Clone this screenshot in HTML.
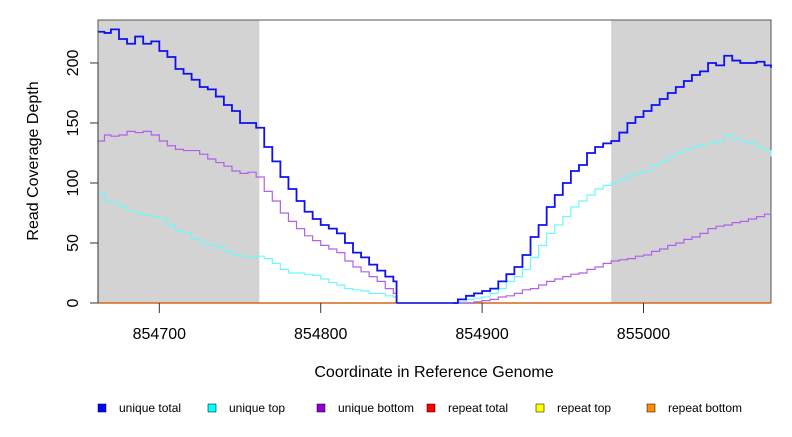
<!DOCTYPE html>
<html><head><meta charset="utf-8"><style>
body{margin:0;background:#fff;width:792px;height:432px;overflow:hidden;font-family:"Liberation Sans",sans-serif}
svg text{font-family:"Liberation Sans",sans-serif}
</style></head><body>
<svg id="chart" width="792" height="432"></svg>
<script>
const seriesNames=["unique total","unique top","unique bottom","repeat total","repeat top","repeat bottom"];
const seriesColors=["#0000ff","#00ffff","#9400d3","#ff0000","#ffff00","#ff8c00"];
const lineColors=["#1010f0","#70f8f8","#b060ea","#ff0000","#ffff00","#d2691e"];
const xTicks=[854700,854800,854900,855000];
const yTicks=[0,50,100,150,200];
const grayRegions=[[854662,854762],[854980,855080]];
const coordsLeft=[854662,854666,854670,854675,854680,854685,854690,854695,854700,854705,854710,854715,854720,854725,854730,854735,854740,854745,854750,854755,854760,854765,854770,854775,854780,854785,854790,854795,854800,854805,854810,854815,854820,854825,854830,854835,854840,854845,854847];
const totalLeft=[226,225,228,220,216,222,216,218,210,205,195,191,186,180,178,172,165,160,150,150,146,130,118,105,95,85,76,70,65,62,58,50,42,38,32,27,22,18,0];
const topLeft=[91,85,84,80,77,75,73,72,70,65,60,58,53,50,48,47,43,40,39,38,39,37,33,28,25,25,24,23,20,17,15,12,11,10,8,8,6,5,0];
const bottomLeft=[135,140,139,140,143,142,143,140,135,131,128,127,127,124,120,117,114,110,108,109,105,93,85,75,68,62,56,52,48,45,42,35,30,26,22,18,12,8,0];
const coordsRight=[854882,854885,854890,854895,854900,854905,854910,854915,854920,854925,854930,854935,854940,854945,854950,854955,854960,854965,854970,854975,854980,854985,854990,854995,855000,855005,855010,855015,855020,855025,855030,855035,855040,855045,855050,855055,855060,855065,855070,855075,855079];
const totalRight=[0,3,6,8,10,12,18,24,30,40,55,65,80,90,100,110,115,125,130,133,135,142,150,155,160,165,170,175,180,185,190,193,200,198,206,202,200,200,201,198,196];
const topRight=[0,1,3,4,5,8,12,18,22,28,38,48,58,65,72,80,85,90,95,98,100,103,106,108,110,115,118,122,125,128,130,132,133,135,140,137,135,133,130,127,122];
const bottomRight=[0,0,0,1,2,3,5,6,8,11,12,15,18,20,22,24,25,28,30,33,35,36,37,39,40,43,45,48,50,53,55,58,62,64,65,67,68,70,72,74,75];
const xMin=854662,xMax=855079,yMax=235.8;
const L=98,R=771,T=20,B=303;
const X=v=>L+(v-xMin)/(xMax-xMin)*(R-L);
const Y=v=>B-v/yMax*(B-T);
const NS="http://www.w3.org/2000/svg";
const svg=document.getElementById('chart');
function mk(tag,attrs,parent){const e=document.createElementNS(NS,tag);for(const k in attrs)e.setAttribute(k,attrs[k]);(parent||svg).appendChild(e);return e;}
grayRegions.forEach((g,i)=>{
 const r=mk('rect',{x:X(g[0]),y:T,width:Math.min(X(g[1]),R)-X(g[0]),height:B-T,fill:'#d3d3d3'});
 
 
});
const box=mk('rect',{x:L,y:T,width:R-L,height:B-T,fill:'none',stroke:'#555','stroke-width':1});


function stepPath(xs,ys){let d='M'+X(xs[0])+','+Y(ys[0]);for(let i=1;i<xs.length;i++){d+=' H'+X(xs[i])+' V'+Y(ys[i]);}return d;}
const zl=mk('line',{x1:L,x2:R,y1:B,y2:B,stroke:lineColors[5],'stroke-width':1.5});


const zr=mk('path',{d:'M'+X(854847)+','+B+' H'+X(854882),stroke:'#4040e0','stroke-width':2,fill:'none'});


const sets=[[bottomLeft,bottomRight,2,1.2,'unique-bottom'],[topLeft,topRight,1,1.2,'unique-top'],[totalLeft,totalRight,0,1.8,'unique-total']];
sets.forEach(s=>{
 const p1=mk('path',{d:stepPath(coordsLeft,s[0]),stroke:lineColors[s[2]],'stroke-width':s[3],fill:'none'});
 
 
 const p2=mk('path',{d:stepPath(coordsRight,s[1]),stroke:lineColors[s[2]],'stroke-width':s[3],fill:'none'});
 
 
});
const ya=mk('line',{x1:L,x2:L,y1:Y(0),y2:Y(200),stroke:'#333'});


yTicks.forEach(v=>{
 const t=mk('line',{x1:L-8,x2:L,y1:Y(v),y2:Y(v),stroke:'#333'});
 
 
 const tx=mk('text',{x:0,y:0,'font-size':16,'text-anchor':'middle',transform:`translate(78,${Y(v)}) rotate(-90)`,fill:'#000'});
 tx.textContent=v;
 
 
});
const xa=mk('line',{x1:L,x2:R,y1:B,y2:B,stroke:'none'});
xTicks.forEach(v=>{
 const t=mk('line',{x1:X(v),x2:X(v),y1:B,y2:B+10,stroke:'#333'});
 
 
 const tx=mk('text',{x:X(v),y:339,'font-size':16,'text-anchor':'middle',fill:'#000'});
 tx.textContent=v;
 
 
});
const xt=mk('text',{x:434,y:377,'font-size':16,'text-anchor':'middle'});
xt.textContent='Coordinate in Reference Genome';


const yt=mk('text',{x:0,y:0,'font-size':16,'text-anchor':'middle',transform:'translate(38,161) rotate(-90)'});
yt.textContent='Read Coverage Depth';


const lx=[98,208,317,427,536,647];
seriesNames.forEach((n,i)=>{
 const g=mk('g',{});
 
 
 mk('rect',{x:lx[i],y:404,width:8,height:8,fill:seriesColors[i],stroke:'#000','stroke-width':0.5},g);
 const t=mk('text',{x:lx[i]+21,y:412,'font-size':12},g);
 t.textContent=n;
});
</script>
</body></html>
